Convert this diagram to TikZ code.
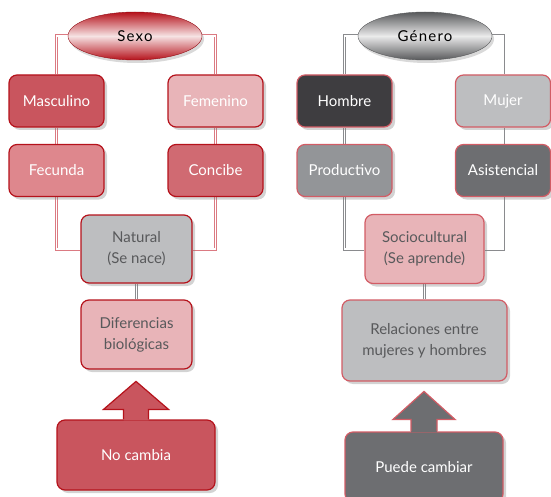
\documentclass[tikz,border=0pt]{standalone}
\usepackage{fontspec}
\setmainfont{Lato}
\usetikzlibrary{shapes.geometric,shadows,backgrounds,calc}
% colores
\definecolor{sexored}{HTML}{B5121B}
\definecolor{rojo}{HTML}{C9555E}
\definecolor{rosa}{HTML}{E8B4B8}
\definecolor{rosamed}{HTML}{DE878D}
\definecolor{rosaosc}{HTML}{D06A72}
\definecolor{grisclaro}{HTML}{BDBEC0}
\definecolor{grismed}{HTML}{939598}
\definecolor{grisosc}{HTML}{6D6E71}
\definecolor{negro}{HTML}{3E3D40}
\definecolor{textgris}{HTML}{58595B}
\definecolor{bordeder}{HTML}{D25C65}
\definecolor{conizq}{HTML}{DB7A82}
\definecolor{conder}{HTML}{8A8B8E}

\begin{document}
\begin{tikzpicture}[x=1pt,y=-1pt,
	caja/.style={draw=sexored, line width=1.2pt, rounded corners=8pt,
		minimum width=95pt, minimum height=52pt, align=center, inner sep=2pt,
		text=white, font=\fontsize{15}{21}\selectfont,
		drop shadow={opacity=0.35,shadow xshift=3pt,shadow yshift=-3pt}},
	cajader/.style={caja, draw=bordeder},
	oval/.style={ellipse, minimum width=134pt, minimum height=48pt, inner sep=0pt,
		font=\fontsize{15}{17}\selectfont\addfontfeature{LetterSpace=8},
		drop shadow={opacity=0.3,shadow xshift=2pt,shadow yshift=-3pt}},
	linea/.style={draw=#1, double=white, double distance=1.6pt, line width=0.7pt}]
	\useasboundingbox (0,0) rectangle (551,497);
	% Sexo
	\node[oval, top color=sexored, bottom color=sexored, middle color=sexored!12!white,
		draw=sexored!80!black, line width=0.4pt] (sexo) at (135,36) {Sexo};
	\node[caja, fill=rojo] (masc) at (56.5,101) {Masculino};
	\node[caja, fill=rosa] (feme) at (215.5,101) {Femenino};
	\node[caja, fill=rosamed] (fecu) at (56.5,170.5) {Fecunda};
	\node[caja, fill=rosaosc] (conc) at (215.5,170.5) {Concibe};
	\node[caja, fill=grisclaro, text=textgris, minimum width=111pt, minimum height=68pt]
		(natu) at (136.5,249) {Natural\\(Se nace)};
	\node[caja, fill=rosa, text=textgris, minimum width=111pt, minimum height=69pt]
		(dife) at (136.5,334.5) {Diferencias\\biológicas};
	\node[caja, fill=rojo, minimum width=158pt, minimum height=70pt]
		(nocam) at (136,455) {No cambia};
	% Genero
	\node[oval, top color=textgris, bottom color=textgris, middle color=white!92!black,
		draw=textgris, line width=0.4pt] (gene) at (425,36) {Género};
	\node[cajader, fill=negro] (homb) at (344.5,101) {Hombre};
	\node[cajader, fill=grisclaro] (muje) at (503,101) {Mujer};
	\node[cajader, fill=grismed] (prod) at (344.5,170.5) {Productivo};
	\node[cajader, fill=grisosc] (asis) at (503,170.5) {Asistencial};
	\node[cajader, fill=rosa, text=textgris, minimum width=119pt, minimum height=69pt]
		(soci) at (424.5,249) {Sociocultural\\(Se aprende)};
	\node[cajader, fill=grisclaro, text=textgris, minimum width=165pt, minimum height=81pt]
		(rela) at (424.5,340.5) {Relaciones entre\\mujeres y hombres};
	\node[cajader, fill=grisosc, minimum width=158pt, minimum height=70pt]
		(pued) at (424,467) {Puede cambiar};
	% conectores
	\begin{scope}[on background layer]
		\draw[linea=conizq] (sexo.west) -| (masc.north);
		\draw[linea=conizq] (sexo.east) -| (feme.north);
		\draw[linea=conizq] (masc) -- (fecu);
		\draw[linea=conizq] (feme) -- (conc);
		\draw[linea=conizq] (fecu.south) |- (natu.west);
		\draw[linea=conizq] (conc.south) |- (natu.east);
		\draw[linea=conder] (natu) -- (dife);
		\draw[linea=conder] (gene.west) -| (homb.north);
		\draw[linea=conder] (gene.east) -| (muje.north);
		\draw[linea=conder] (homb) -- (prod);
		\draw[linea=conder] (muje) -- (asis);
		\draw[linea=conder] (prod.south) |- (soci.west);
		\draw[linea=conder] (asis.south) |- (soci.east);
		\draw[linea=conder] (soci) -- (rela);
	\end{scope}
	% flechas
	\fill[rojo] ($(nocam.north)+(-12.5,1)$) -- ++(0,-11) -- ++(-20,0)
		-- ($(nocam.north)+(0,-38)$) -- ($(nocam.north)+(32.5,-10)$) -- ++(-20,0) -- ++(0,11) -- cycle;
	\draw[sexored, line width=1.2pt, line join=miter] ($(nocam.north)+(-12.5,0)$) -- ++(0,-10) -- ++(-20,0)
		-- ($(nocam.north)+(0,-38)$) -- ($(nocam.north)+(32.5,-10)$) -- ++(-20,0) -- ++(0,10);
	\fill[grisosc] ($(pued.north)+(-13,1)$) -- ++(0,-13) -- ++(-18,0)
		-- ($(pued.north)+(0,-40)$) -- ($(pued.north)+(31,-12)$) -- ++(-18,0) -- ++(0,13) -- cycle;
	\draw[bordeder, line width=1.2pt, line join=miter] ($(pued.north)+(-13,0)$) -- ++(0,-12) -- ++(-18,0)
		-- ($(pued.north)+(0,-40)$) -- ($(pued.north)+(31,-12)$) -- ++(-18,0) -- ++(0,12);
\end{tikzpicture}
\end{document}
